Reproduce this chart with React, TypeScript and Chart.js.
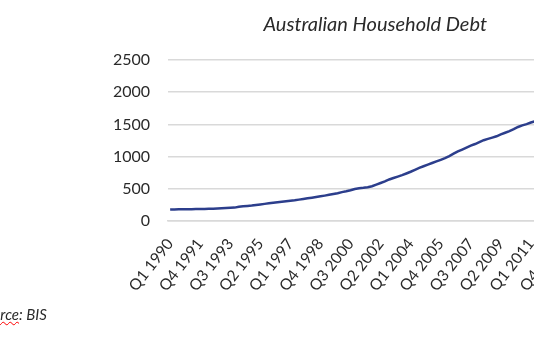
import React, { useEffect, useRef } from 'react';
import { Chart, registerables } from 'chart.js';

Chart.register(...registerables);

const startYear = 1990;
const endYear = 2017;
const quarterLabels: string[] = [];
for (let y = startYear; y <= endYear; y++) {
  for (let q = 1; q <= 4; q++) quarterLabels.push(`Q${q} ${y}`);
}

// Household debt (AUD bn), Q1 1990 onward
const debtValues: number[] = [
  178, 180, 181, 182, 183, 184, 185, 186,
  188, 190, 192, 194, 197, 200, 204, 208,
  222, 228, 234, 240, 250, 258, 266, 274,
  282, 290, 298, 306, 314, 322, 332, 342,
  352, 362, 372, 383, 394, 406, 418, 430,
  448, 462, 478, 498, 508, 515, 525, 540,
  565, 590, 615, 645, 668, 690, 712, 738,
  765, 795, 825, 850, 875, 900, 925, 950,
  975, 1008, 1045, 1080, 1110, 1140, 1170, 1195,
  1225, 1255, 1275, 1295, 1315, 1345, 1370, 1395,
  1425, 1460, 1485, 1505, 1530, 1550, 1570,
];

const yTicks: number[] = [0, 500, 1000, 1500, 2000, 2500];
const labelEvery = 7;

const titleText = 'Australian Household Debt';
const seriesName = 'Household Debt';

export default function App() {
  const canvasRef = useRef<HTMLCanvasElement | null>(null);

  useEffect(() => {
    if (!canvasRef.current) return;
    const chart = new Chart(canvasRef.current, {
      type: 'line',
      data: {
        labels: quarterLabels,
        datasets: [
          {
            label: seriesName,
            data: debtValues,
            borderColor: '#2c3e8c',
            borderWidth: 2.5,
            pointRadius: 0,
            tension: 0,
            fill: false,
          },
        ],
      },
      options: {
        animation: false,
        responsive: false,
        layout: { padding: { left: 101.5, right: 0, top: 0, bottom: 0 } },
        plugins: {
          legend: { display: false },
          tooltip: { enabled: false },
          title: {
            display: true,
            text: titleText,
            color: '#2a2a2a',
            font: { family: 'Lato', size: 20, style: 'italic', weight: 'normal' },
            padding: { top: 13, bottom: 23 },
          },
        },
        scales: {
          x: {
            offset: true,
            grid: { display: false, drawTicks: false },
            border: { display: true, color: '#d9d9d9', width: 1.5 },
            ticks: {
              autoSkip: false,
              minRotation: 52,
              maxRotation: 52,
              padding: 14,
              color: '#2a2a2a',
              font: { family: 'Lato', size: 15.5 },
              callback: (_v: any, i: number) => (i % labelEvery === 0 ? quarterLabels[i] : ''),
            },
            afterFit: (scale: any) => {
              scale.height = 134;
              scale.paddingLeft = 0;
              scale.paddingRight = 0;
            },
          },
          y: {
            min: 0,
            max: 2500,
            afterBuildTicks: (scale: any) => {
              scale.ticks = yTicks.map((v) => ({ value: v }));
            },
            grid: { color: '#d9d9d9', lineWidth: 1.5, drawTicks: false },
            border: { display: false },
            ticks: {
              padding: 18,
              color: '#2a2a2a',
              font: { family: 'Lato', size: 16 },
              callback: (v: any) => String(v),
            },
            afterFit: (scale: any) => {
              scale.width = 66.5;
            },
          },
        },
      },
    });
    return () => chart.destroy();
  }, []);

  return (
    <div
      style={{
        position: 'fixed',
        left: 0,
        top: 0,
        width: 534,
        height: 355,
        overflow: 'hidden',
        background: '#ffffff',
      }}
    >
      <canvas
        ref={canvasRef}
        width={649}
        height={355}
        style={{ position: 'absolute', left: 0, top: 0, width: 649, height: 355 }}
      />
      <div
        style={{
          position: 'absolute',
          left: -23,
          top: 305,
          fontFamily: 'Lato',
          fontStyle: 'italic',
          fontSize: 15,
          color: '#2a2a2a',
          whiteSpace: 'nowrap',
        }}
      >
        <span style={{ textDecoration: 'underline wavy red', textDecorationThickness: 1 }}>Source</span>: BIS
      </div>
    </div>
  );
}
